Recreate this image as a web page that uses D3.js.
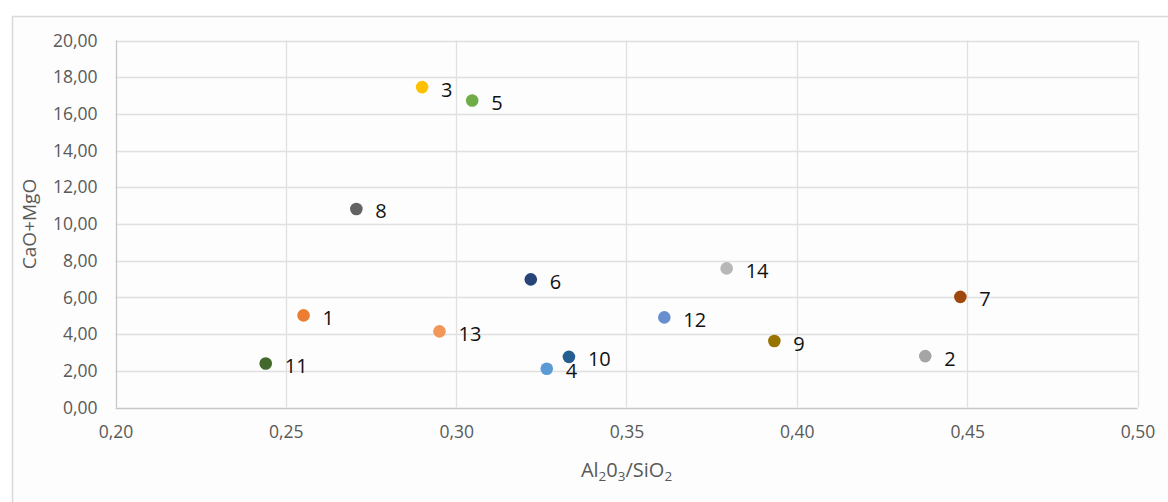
<!DOCTYPE html>
<html><head><meta charset="utf-8">
<script src="https://cdn.jsdelivr.net/npm/d3@7"></script>
<style>
html,body{margin:0;padding:0;background:#fff;}
svg{display:block;font-family:"Open Sans",sans-serif;}
</style></head>
<body>
<svg id="c" width="1168" height="502"></svg>
<script>
const labels = ["1","2","3","4","5","6","7","8","9","10","11","12","13","14"];
const xValues = [0.2552,0.4377,0.2900,0.3266,0.3047,0.3219,0.4480,0.2707,0.3934,0.3331,0.2441,0.3611,0.2951,0.3794];
const yValues = [5.02,2.80,17.46,2.11,16.73,6.98,6.03,10.82,3.62,2.76,2.40,4.91,4.15,7.58];
const colors = ["#ED7D31","#A5A5A5","#FFC000","#5B9BD5","#70AD47","#264478","#9E480E","#636363","#997300","#255E91","#43682B","#698ED0","#F1975A","#B7B7B7"];
const xTicks = [0.20,0.25,0.30,0.35,0.40,0.45,0.50];
const yTicks = [0,2,4,6,8,10,12,14,16,18,20];

const svg = d3.select("#c");
const L = 115.5, R = 1137.5, T = 40.5, B = 407.5;
svg.append("rect").attr("x",12.5).attr("y",16.5).attr("width",1170).attr("height",500)
  .attr("fill","#fdfdfd").attr("stroke","#d9d9d9").attr("stroke-width",1.5);

const x = d3.scaleLinear().domain([0.2,0.5]).range([L,R]);
const y = d3.scaleLinear().domain([0,20]).range([B,T]);
const fmt2 = d => d3.format(".2f")(d).replace(".",",");

// gridlines
svg.append("g").selectAll("line").data(yTicks).join("line")
  .attr("x1",L).attr("x2",R).attr("y1",d=>Math.round(y(d))+0.5).attr("y2",d=>Math.round(y(d))+0.5)
  .attr("stroke",d=>d===0?"#c8c8c8":"#e0e0e0").attr("stroke-width",1.3);
svg.append("g").selectAll("line").data(xTicks).join("line")
  .attr("y1",T).attr("y2",B).attr("x1",d=>Math.round(x(d))+0.5).attr("x2",d=>Math.round(x(d))+0.5)
  .attr("stroke",d=>d===0.2?"#c8c8c8":"#e0e0e0").attr("stroke-width",1.3);

// axes via d3
const gy = svg.append("g").attr("transform",`translate(${L},0)`)
  .call(d3.axisLeft(y).tickValues(yTicks).tickFormat(fmt2).tickSize(0).tickPadding(18));
gy.select(".domain").remove();
gy.selectAll("text").attr("font-family","Open Sans").attr("font-size",17.5).attr("fill","#595959");
const gx = svg.append("g").attr("transform",`translate(0,${B})`)
  .call(d3.axisBottom(x).tickValues(xTicks).tickFormat(fmt2).tickSize(0).tickPadding(18));
gx.select(".domain").remove();
gx.selectAll("text").attr("font-family","Open Sans").attr("font-size",17.5).attr("fill","#595959");

// axis titles
svg.append("text").attr("transform",`translate(36,${(T+B)/2}) rotate(-90)`)
  .attr("text-anchor","middle").attr("font-size",19).attr("fill","#595959").text("CaO+MgO");
const xt = svg.append("text").attr("x",(L+R)/2).attr("y",477).attr("text-anchor","middle")
  .attr("font-size",20).attr("fill","#595959");
xt.append("tspan").text("Al");
xt.append("tspan").attr("font-size",13.5).attr("dy",4).text("2");
xt.append("tspan").attr("dy",-4).text("0");
xt.append("tspan").attr("font-size",13.5).attr("dy",4).text("3");
xt.append("tspan").attr("dy",-4).text("/SiO");
xt.append("tspan").attr("font-size",13.5).attr("dy",4).text("2");

// points
const data = labels.map((l,i)=>({l,x:xValues[i],y:yValues[i],c:colors[i]}));
svg.append("g").selectAll("circle").data(data).join("circle")
  .attr("cx",d=>x(d.x)).attr("cy",d=>y(d.y)).attr("r",6.3).attr("fill",d=>d.c);
svg.append("g").selectAll("text").data(data).join("text")
  .attr("x",d=>x(d.x)+19).attr("y",d=>y(d.y)+9.5).attr("font-size",20).attr("fill","#111")
  .text(d=>d.l);
</script>
</body></html>
